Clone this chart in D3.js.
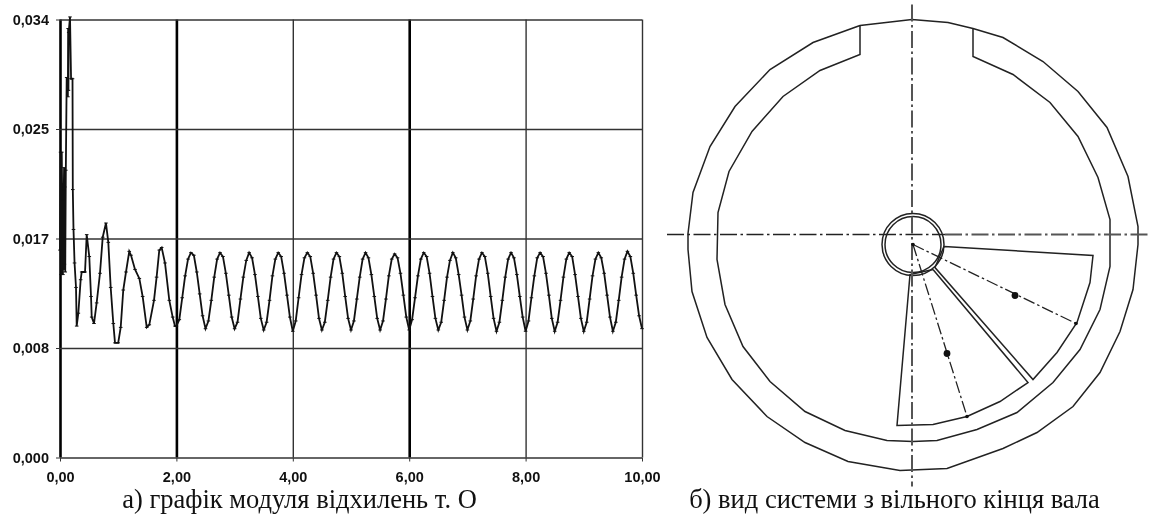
<!DOCTYPE html>
<html>
<head>
<meta charset="utf-8">
<script src="https://cdn.jsdelivr.net/npm/d3@7"></script>
<style>
  body { margin: 0; background: #fff; }
  #canvas { filter: blur(0.35px); }
  .tick text { font-family: "Liberation Sans", sans-serif; font-size: 14.5px; font-weight: bold; fill: #111; }
  .caption { font-family: "Liberation Serif", serif; font-size: 26.5px; fill: #111; }
</style>
</head>
<body>
<svg id="canvas" width="1151" height="517"></svg>
<script>
let xTicks = [0, 2, 4, 6, 8, 10]
let xTickLabels = ['0,00', '2,00', '4,00', '6,00', '8,00', '10,00']
let heavyXTicks = [0, 2, 6]
let yTicks = [0, 0.0085, 0.017, 0.0255, 0.034]
let yTickLabels = ['0,000', '0,008', '0,017', '0,025', '0,034']
let captionA = 'а) графік модуля відхилень т. О'
let captionB = 'б) вид системи з вільного кінця вала'

// transient part, read point by point
let startTimes = [
  0, .01, .02, .03, .05, .055, .06, .065, .07, .075, .08, .09, .10, .115, .135, .14, .145, .15, .155, .172, .19, .215, .22, .232, .25, .275, .287, .315,
  .355, .373, .43, .459, .503, .533, .545, .584, .63, .687, .734, .79, .83, .871, .916, .945, 1.00, 1.043, 1.087, 1.134,
  1.19, 1.22, 1.289, 1.363, 1.42, 1.49, 1.534, 1.615, 1.66, 1.706, 1.747, 1.804, 1.878, 1.936, 1.976
]
let startValues = [
  .0161, .0237, .0142, .0237, .0142, .0200, .0146, .0208, .0225, .0150, .0210, .0144, .0223, .0295, .0280, .0333, .0285, .0330, .0333, .0342, .0294, .0294, .0208, .0177, .0151, .0132, .0102, .0112,
  .0138, .0144, .0144, .0173, .0156, .0125, .0109, .0104, .0120, .0143, .0171, .0182, .0167, .0132, .0104, .0089, .0089, .0101, .0130, .0144,
  .0160, .0157, .0146, .0139, .0125, .0101, .0103, .0122, .0140, .0161, .0163, .0151, .0122, .0109, .0102
]
// steady part, one row per half period
let steadyTimes = [
  2.00, 2.05, 2.10, 2.15, 2.20, 2.25, 2.30, 2.35, 2.40, 2.45,
  2.50, 2.55, 2.60, 2.65, 2.70, 2.75, 2.80, 2.85, 2.90, 2.95,
  3.00, 3.05, 3.10, 3.15, 3.20, 3.25, 3.30, 3.35, 3.40, 3.45,
  3.50, 3.55, 3.60, 3.65, 3.70, 3.75, 3.80, 3.85, 3.90, 3.95,
  4.00, 4.05, 4.10, 4.15, 4.20, 4.25, 4.30, 4.35, 4.40, 4.45,
  4.50, 4.55, 4.60, 4.65, 4.70, 4.75, 4.80, 4.85, 4.90, 4.95,
  5.00, 5.05, 5.10, 5.15, 5.20, 5.25, 5.30, 5.35, 5.40, 5.45,
  5.50, 5.55, 5.60, 5.65, 5.70, 5.75, 5.80, 5.85, 5.90, 5.95,
  6.00, 6.05, 6.10, 6.15, 6.20, 6.25, 6.30, 6.35, 6.40, 6.45,
  6.50, 6.55, 6.60, 6.65, 6.70, 6.75, 6.80, 6.85, 6.90, 6.95,
  7.00, 7.05, 7.10, 7.15, 7.20, 7.25, 7.30, 7.35, 7.40, 7.45,
  7.50, 7.55, 7.60, 7.65, 7.70, 7.75, 7.80, 7.85, 7.90, 7.95,
  8.00, 8.05, 8.10, 8.15, 8.20, 8.25, 8.30, 8.35, 8.40, 8.45,
  8.50, 8.55, 8.60, 8.65, 8.70, 8.75, 8.80, 8.85, 8.90, 8.95,
  9.00, 9.05, 9.10, 9.15, 9.20, 9.25, 9.30, 9.35, 9.40, 9.45,
  9.50, 9.55, 9.60, 9.65, 9.70, 9.75, 9.80, 9.85, 9.90, 9.95,
  10.00
]
let steadyValues = [
  .0102, .0107, .0124, .0141, .0154, .0159, .0157, .0144, .0127, .0110,
  .0100, .0106, .0122, .0140, .0154, .0159, .0156, .0143, .0126, .0109,
  .0100, .0105, .0123, .0140, .0153, .0159, .0155, .0142, .0125, .0108,
  .0099, .0105, .0122, .0141, .0154, .0159, .0156, .0143, .0126, .0109,
  .0098, .0106, .0124, .0142, .0155, .0159, .0156, .0143, .0126, .0108,
  .0099, .0105, .0122, .0140, .0154, .0159, .0156, .0143, .0125, .0108,
  .0099, .0106, .0123, .0140, .0154, .0159, .0155, .0142, .0125, .0108,
  .0099, .0106, .0123, .0141, .0154, .0158, .0155, .0143, .0126, .0109,
  .0099, .0107, .0124, .0141, .0154, .0159, .0156, .0143, .0125, .0108,
  .0099, .0105, .0122, .0140, .0153, .0159, .0155, .0142, .0126, .0109,
  .0099, .0106, .0123, .0141, .0154, .0159, .0156, .0143, .0125, .0108,
  .0098, .0105, .0122, .0140, .0154, .0159, .0155, .0142, .0125, .0109,
  .0098, .0106, .0124, .0141, .0155, .0159, .0156, .0143, .0126, .0108,
  .0098, .0105, .0122, .0140, .0154, .0159, .0156, .0142, .0125, .0108,
  .0098, .0105, .0123, .0141, .0154, .0159, .0155, .0143, .0126, .0109,
  .0098, .0105, .0122, .0140, .0154, .0160, .0156, .0143, .0126, .0110,
  .0100
]

// drawing of the system, units from the crossing of the centre lines, y up
let outerRim = [[-52,209],[0,215],[36,212],[61,206],[91,197],[131,173],[166,143],[195,107],[216,58],[226,8],[226,-10],[221,-55],[208,-97],[188,-138],[161,-172],[125,-198],[91,-214],[35,-234],[-12,-236],[-64,-227],[-107,-208],[-145,-182],[-180,-145],[-205,-103],[-220,-57],[-224,-15],[-224,1],[-219,42],[-202,88],[-177,128],[-142,165],[-99,192],[-52,209]]
let innerRim = [[-52,209],[-52,180],[-92,164],[-129,138],[-160,103],[-183,63],[-194,22],[-195,-25],[-187,-70],[-169,-112],[-142,-147],[-107,-177],[-67,-196],[-25,-206],[1,-207],[25,-206],[65,-195],[105,-178],[141,-148],[168,-115],[188,-75],[198,-32],[198,15],[186,57],[166,98],[138,132],[101,160],[61,178],[61,206]]
let upperSector = [[32,-12],[181,-21],[178,-48],[165,-88],[145,-118],[121,-145],[23,-33]]
let lowerSector = [[21,-35],[116,-148],[88,-167],[55,-182],[21,-190],[-15,-191],[-2,-40]]
let shaftCentre = [1, -10]
let shaftRadii = [31, 28]
let thinCentreLines = [[[-245,0],[33,0]]]
let wideCentreLines = [[[33,0],[239,0]], [[0,230],[0,-252]]]
let balanceLines = [[[1,-10],[164,-89]], [[1,-10],[55,-182]]]
let bigDots = [[103,-61],[35,-119]]
let smallDots = [[1,-10],[164,-89],[55,-182]]

let canvas = d3.select('#canvas')

// chart a)
let xScale = d3.scaleLinear().domain([0, 10]).range([60, 642])
let yScale = d3.scaleLinear().domain([0, 0.034]).range([457.5, 19.5])

let xAxis = d3.axisBottom(xScale)
  .tickValues(xTicks)
  .tickSize(-438)
  .tickSizeOuter(0)
  .tickPadding(14)
  .tickFormat((d, i) => xTickLabels[i])

let yAxis = d3.axisLeft(yScale)
  .tickValues(yTicks)
  .tickSize(-582)
  .tickSizeOuter(0)
  .tickPadding(11)
  .tickFormat((d, i) => yTickLabels[i])

let xGroup = canvas.append('g').attr('transform', 'translate(0,457.5)').call(xAxis)
let yGroup = canvas.append('g').attr('transform', 'translate(60,0)').call(yAxis)
xGroup.select('.domain').remove()
yGroup.select('.domain').remove()

xGroup.selectAll('.tick line')
  .attr('stroke', (d) => heavyXTicks.includes(d) ? '#000' : '#333')
  .attr('stroke-width', (d) => heavyXTicks.includes(d) ? 2.6 : 1.4)
yGroup.selectAll('.tick line')
  .attr('stroke', '#333')
  .attr('stroke-width', 1.6)

// short outer ticks of the axes
xGroup.selectAll('.tick').append('line').attr('y2', 4).attr('stroke', '#333')
yGroup.selectAll('.tick').append('line').attr('x2', -4).attr('stroke', '#333')

let curve = startTimes.map((t, i) => [t, startValues[i]])
  .concat(steadyTimes.map((t, i) => [t, steadyValues[i]]))

let line = d3.line()
  .x((d) => xScale(d[0]))
  .y((d) => yScale(d[1]))

canvas.append('path')
  .attr('d', line(curve))
  .attr('fill', 'none')
  .attr('stroke', '#111')
  .attr('stroke-width', 1.8)

canvas.append('g')
  .selectAll('line')
  .data(curve)
  .enter()
  .append('line')
  .attr('x1', (d) => xScale(d[0]) - 1.8)
  .attr('x2', (d) => xScale(d[0]) + 1.8)
  .attr('y1', (d) => yScale(d[1]))
  .attr('y2', (d) => yScale(d[1]))
  .attr('stroke', '#111')
  .attr('stroke-width', 1)

canvas.append('text')
  .attr('class', 'caption')
  .attr('x', 299.5)
  .attr('y', 508)
  .attr('text-anchor', 'middle')
  .text(captionA)

// drawing b)
let drawX = d3.scaleLinear().domain([-245, 239]).range([667, 1151])
let drawY = d3.scaleLinear().domain([-252, 230]).range([486.5, 4.5])

let outline = d3.line()
  .x((d) => drawX(d[0]))
  .y((d) => drawY(d[1]))

canvas.append('g')
  .selectAll('path')
  .data([outerRim, innerRim, upperSector.concat([upperSector[0]]), lowerSector.concat([lowerSector[0]])])
  .enter()
  .append('path')
  .attr('d', outline)
  .attr('fill', 'none')
  .attr('stroke', '#222')
  .attr('stroke-width', 1.5)

canvas.append('g')
  .selectAll('circle')
  .data(shaftRadii)
  .enter()
  .append('circle')
  .attr('cx', drawX(shaftCentre[0]))
  .attr('cy', drawY(shaftCentre[1]))
  .attr('r', (d) => d)
  .attr('fill', 'none')
  .attr('stroke', '#222')
  .attr('stroke-width', 1.5)

canvas.append('g')
  .selectAll('path')
  .data(thinCentreLines)
  .enter()
  .append('path')
  .attr('d', outline)
  .attr('stroke', '#222')
  .attr('stroke-width', 1.4)
  .attr('stroke-dasharray', '17 3.5 2.5 3.5')

canvas.append('g')
  .selectAll('path')
  .data(wideCentreLines)
  .enter()
  .append('path')
  .attr('d', outline)
  .attr('stroke', '#555')
  .attr('stroke-width', 2)
  .attr('stroke-dasharray', '17 3.5 2.5 3.5')

canvas.append('g')
  .selectAll('path')
  .data(balanceLines)
  .enter()
  .append('path')
  .attr('d', outline)
  .attr('stroke', '#222')
  .attr('stroke-width', 1.3)
  .attr('stroke-dasharray', '12 3 2.5 3')

canvas.append('g')
  .selectAll('circle')
  .data(bigDots)
  .enter()
  .append('circle')
  .attr('cx', (d) => drawX(d[0]))
  .attr('cy', (d) => drawY(d[1]))
  .attr('r', 3.4)
  .attr('fill', '#111')

canvas.append('g')
  .selectAll('circle')
  .data(smallDots)
  .enter()
  .append('circle')
  .attr('cx', (d) => drawX(d[0]))
  .attr('cy', (d) => drawY(d[1]))
  .attr('r', 1.8)
  .attr('fill', '#111')

canvas.append('text')
  .attr('class', 'caption')
  .attr('x', 894.5)
  .attr('y', 508)
  .attr('text-anchor', 'middle')
  .text(captionB)
</script>
</body>
</html>
